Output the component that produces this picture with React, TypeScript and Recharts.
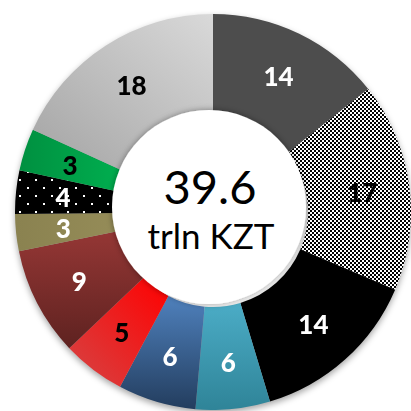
// @ts-nocheck
import React from "react"
import { PieChart, Pie, Cell } from "recharts"

// shares, clockwise from 12 o'clock
const categories = [
    "s1", "s2", "s3", "s4", "s5", "s6", "s7", "s8", "s9", "s10", "s11"
]
const values = [14.2, 16.9, 13.8, 6.0, 6.3, 5.1, 8.8, 3.0, 3.5, 3.4, 18.0]
const labels = ["14", "17", "14", "6", "6", "5", "9", "3", "4", "3", "18"]
const fills = [
    "#4d4d4d",
    "url(#checker)",
    "#000000",
    "url(#teal)",
    "url(#blue)",
    "url(#red)",
    "url(#brown)",
    "url(#olive)",
    "url(#dots)",
    "url(#green)",
    "url(#grey)"
]
const labelColors = [
    "#fff", "#000", "#fff", "#fff", "#fff", "#000", "#fff", "#fff", "#fff", "#000", "#000"
]
const totalText = "39.6"
const unitText = "trln KZT"

const data = categories.map((name, i) => ({ name, value: values[i] }))

const RAD = Math.PI / 180

const renderLabel = ({ cx, cy, midAngle, innerRadius, outerRadius, index }) => {
    const r = innerRadius + (outerRadius - innerRadius) * 0.54
    const x = cx + r * Math.cos(-midAngle * RAD)
    const y = cy + r * Math.sin(-midAngle * RAD)
    return (
        <text
            x={x}
            y={y}
            fill={labelColors[index]}
            textAnchor="middle"
            dominantBaseline="central"
            fontFamily="Lato, sans-serif"
            fontWeight="900"
            fontSize={26}
        >
            {labels[index]}
        </text>
    )
}

const Defs = () => (
    <svg width={0} height={0} style={{ position: "absolute" }}>
        <defs>
            <pattern id="checker" patternUnits="userSpaceOnUse" width={4} height={4}>
                <rect width={4} height={4} fill="#fff" />
                <rect width={2} height={2} fill="#000" />
                <rect x={2} y={2} width={2} height={2} fill="#000" />
            </pattern>
            <pattern id="dots" patternUnits="userSpaceOnUse" width={16} height={16}>
                <rect width={16} height={16} fill="#000" />
                <rect x={3} y={3} width={2} height={2} fill="#fff" />
                <rect x={11} y={11} width={2} height={2} fill="#fff" />
            </pattern>
            <linearGradient id="teal" x1="0" y1="0" x2="0" y2="1">
                <stop offset="0" stopColor="#4bacc6" />
                <stop offset="1" stopColor="#2f8498" />
            </linearGradient>
            <linearGradient id="blue" x1="0" y1="0" x2="0" y2="1">
                <stop offset="0" stopColor="#4f81bd" />
                <stop offset="1" stopColor="#233d5e" />
            </linearGradient>
            <linearGradient id="red" x1="1" y1="0" x2="0" y2="1">
                <stop offset="0" stopColor="#ff0000" />
                <stop offset="1" stopColor="#d54545" />
            </linearGradient>
            <linearGradient id="brown" x1="0" y1="0" x2="0" y2="1">
                <stop offset="0" stopColor="#953735" />
                <stop offset="1" stopColor="#5e2220" />
            </linearGradient>
            <linearGradient id="olive" x1="0" y1="0" x2="1" y2="0">
                <stop offset="0" stopColor="#8a8250" />
                <stop offset="1" stopColor="#958c58" />
            </linearGradient>
            <linearGradient id="green" x1="0" y1="0" x2="1" y2="0">
                <stop offset="0" stopColor="#009040" />
                <stop offset="1" stopColor="#00b050" />
            </linearGradient>
            <linearGradient id="grey" x1="1" y1="0" x2="0" y2="1">
                <stop offset="0" stopColor="#d9d9d9" />
                <stop offset="1" stopColor="#a3a3a3" />
            </linearGradient>
            <filter id="innerShadow" x="-20%" y="-20%" width="140%" height="140%">
                <feDropShadow dx="0" dy="0" stdDeviation="3" floodColor="#000" floodOpacity="0.4" />
            </filter>
        </defs>
    </svg>
)

export default function App() {
    return (
        <div style={{ position: "absolute", left: 0, top: 0, width: 411, height: 411, background: "#fff" }}>
            <Defs />
            <div style={{ position: "absolute", left: 0, top: 0, filter: "drop-shadow(0px 3px 3px rgba(0,0,0,0.35))" }}>
                <PieChart width={411} height={411}>
                    <Pie
                        data={data}
                        dataKey="value"
                        cx={208}
                        cy={207}
                        innerRadius={95}
                        outerRadius={198}
                        startAngle={90}
                        endAngle={-270}
                        stroke="none"
                        label={renderLabel}
                        labelLine={false}
                        isAnimationActive={false}
                    >
                        {data.map((d, i) => (
                            <Cell key={d.name} fill={fills[i]} />
                        ))}
                    </Pie>
                </PieChart>
            </div>
            <svg width={411} height={411} style={{ position: "absolute", left: 0, top: 0 }}>
                <circle cx={209} cy={207} r={97} fill="#fff" filter="url(#innerShadow)" />
                <text
                    x={210}
                    y={204}
                    textAnchor="middle"
                    fontFamily="Lato, sans-serif"
                    fontSize={47}
                    fill="#000"
                >
                    {totalText}
                </text>
                <text
                    x={211}
                    y={249}
                    textAnchor="middle"
                    fontFamily="Lato, sans-serif"
                    fontSize={35}
                    fill="#000"
                >
                    {unitText}
                </text>
            </svg>
        </div>
    )
}
